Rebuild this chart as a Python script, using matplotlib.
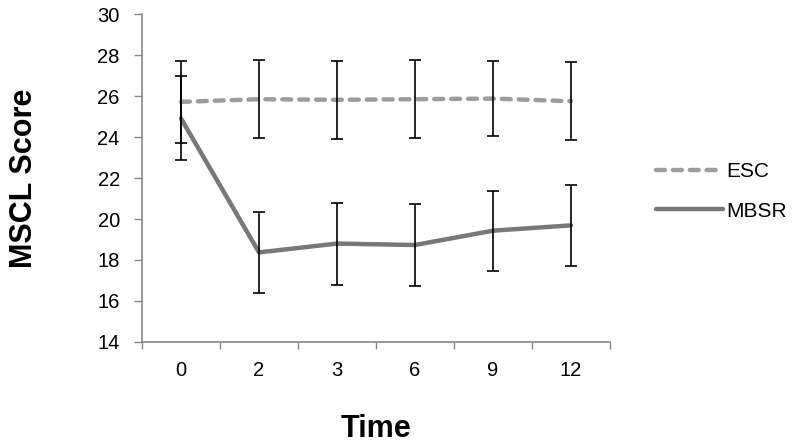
import matplotlib.pyplot as plt
import numpy as np

plt.rcParams['font.family'] = ['Liberation Sans', 'DejaVu Sans']

times = ['0', '2', '3', '6', '9', '12']
esc = [25.72, 25.85, 25.82, 25.85, 25.88, 25.75]
esc_err = [2.0, 1.9, 1.9, 1.9, 1.85, 1.9]
mbsr = [24.91, 18.37, 18.8, 18.73, 19.43, 19.69]
mbsr_err = [2.05, 1.98, 2.0, 1.98, 1.95, 1.99]

fig = plt.figure(figsize=(8, 4.44), dpi=100)
ax = fig.add_axes([0.1775, 0.23, 0.585, 0.738])

x = np.arange(len(times))
ax.errorbar(x, esc, yerr=esc_err, fmt='none', ecolor='black', elinewidth=1.2,
            capsize=4.2, capthick=1.2, zorder=3)
ax.errorbar(x, mbsr, yerr=mbsr_err, fmt='none', ecolor='black', elinewidth=1.2,
            capsize=4.2, capthick=1.2, zorder=3)
ax.plot(x, esc, color='#9c9c9c', lw=3.2, dashes=(2.0, 1.8),
        dash_capstyle='round', label='ESC', zorder=2)
ax.plot(x, mbsr, color='#787878', lw=3.2, solid_capstyle='round',
        label='MBSR', zorder=2)

ax.set_ylim(14, 30)
ax.set_yticks(np.arange(14, 31, 2))
ax.set_xlim(-0.5, len(times) - 0.5)
ax.set_xticks(np.arange(-0.5, len(times), 1))
ax.set_xticklabels([])
ax.set_xticks(x, minor=True)
ax.set_xticklabels(times, minor=True)
ax.tick_params(axis='x', which='minor', length=0, pad=14, labelsize=14.5)
ax.tick_params(axis='x', which='major', length=5, color='#888888', width=1)
ax.tick_params(axis='y', length=6, color='#888888', width=1, labelsize=14.5, pad=10)

for s in ['top', 'right']:
    ax.spines[s].set_visible(False)
for s in ['left', 'bottom']:
    ax.spines[s].set_color('#888888')
    ax.spines[s].set_linewidth(1.2)

ax.set_ylabel('MSCL Score', fontsize=22, fontweight='bold')
ax.yaxis.set_label_coords(-0.22, 0.5)
ax.set_xlabel('Time', fontsize=22, fontweight='bold')
ax.xaxis.set_label_coords(0.5, -0.22)

ax.legend(loc='center left', bbox_to_anchor=(0.809, 0.569),
          bbox_transform=fig.transFigure, borderaxespad=0, frameon=False,
          fontsize=15, handlelength=3.25, labelspacing=1.0, handletextpad=0.15)

fig.savefig('out.png', dpi=100)
